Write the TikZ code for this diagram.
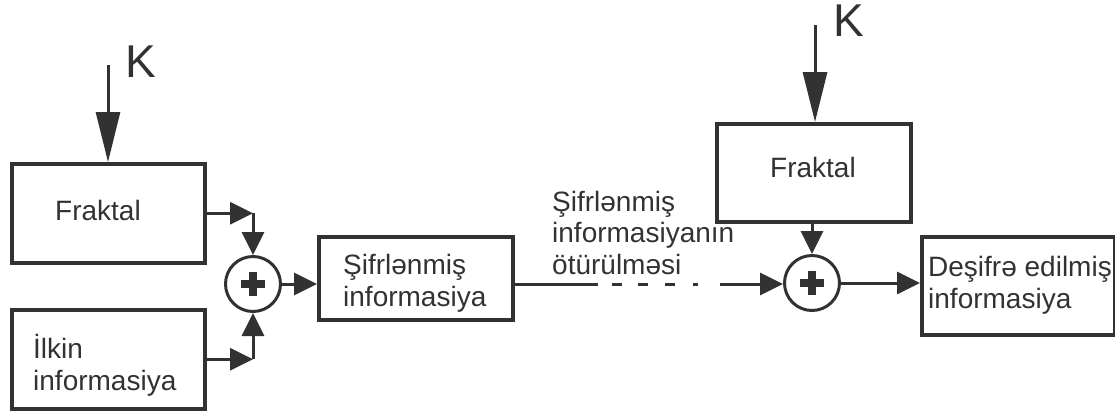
\documentclass[tikz,border=0pt]{standalone}
\usepackage{fontspec}
\setmainfont{Liberation Sans}
\usetikzlibrary{arrows.meta}
\definecolor{ink}{RGB}{50,50,50}
\begin{document}
\begin{tikzpicture}[x=1pt,y=-1pt,
  box/.style={draw=ink, line width=3.5pt, inner sep=0pt, anchor=north west},
  sum/.style={draw=ink, line width=3pt, circle, inner sep=0pt, minimum size=55pt},
  txt/.style={text=ink, font=\fontsize{28}{31.5}\selectfont, inner sep=0pt, anchor=base west, align=left},
  keytxt/.style={text=ink, font=\fontsize{46}{50}\selectfont, inner sep=0pt, anchor=base west},
  conn/.style={draw=ink, line width=3pt},
  arr/.style={conn, -{Triangle[length=23pt,width=22pt]}},
  bigarr/.style={conn, -{Triangle[length=50pt,width=24pt]}},
  plus/.style={draw=ink, line width=7.5pt}]
\useasboundingbox (0,0) rectangle (1115,410);

% blocks
\node[box, minimum width=193pt, minimum height=99pt] (fr1) at (10,162) {};
\node[box, minimum width=193pt, minimum height=99pt] (il) at (10,308) {};
\node[box, minimum width=194pt, minimum height=83pt] (sh) at (317,235) {};
\node[box, minimum width=194pt, minimum height=98pt] (fr2) at (715,122) {};
\node[box, minimum width=193pt, minimum height=98pt] (db) at (920,235) {};

% block texts (multi-line texts are placed by the baseline of their last line)
\node[txt] (fr1t) at (55,220) {Fraktal};
\node[txt] (ilt) at (33,390) {İlkin\\informasiya};
\node[txt] (sht) at (343,306) {Şifrlənmiş\\informasiya};
\node[txt] (fr2t) at (770,177) {Fraktal};
\node[txt] (dbt) at (928,308) {Deşifrə edilmiş\\informasiya};
\node[txt] (chan) at (552,274) {Şifrlənmiş\\informasiyanın\\ötürülməsi};

% adders
\node[sum] (c1) at (253,284) {};
\node[sum] (c2) at (812,283) {};
\foreach \c in {c1,c2}{
  \draw[plus] (\c) ++(-12,0) -- ++(24,0);
  \draw[plus] (\c) ++(0,-12) -- ++(0,24);
}

% key inputs
\node[keytxt] (k1) at (125,77) {K};
\node[keytxt] (k2) at (833,36) {K};
\coordinate (k1s) at (108,65);
\coordinate (k2s) at (815,25);
\draw[bigarr] (k1s) -- (k1s |- fr1.north);
\draw[bigarr] (k2s) -- (k2s |- fr2.north);

% encryption side
\coordinate (j1) at (c1 |- fr1.east);
\coordinate (j2) at (c1 |- il.east);
\draw[arr] (fr1.east) -- (j1);
\draw[arr] (j1) -- (c1.north);
\draw[arr] (il.east) -- (j2);
\draw[arr] (j2) -- (c1.south);
\draw[arr] (c1.east) -- (c1.east -| sh.west);

% transmission channel
\coordinate (t0) at (c1.east -| sh.east);
\coordinate (t1) at (598,284);
\coordinate (t2) at (720,284);
\draw[conn] (t0) -- (t1);
\draw[conn, dash pattern=on 0pt off 14pt on 10pt off 16pt on 10pt off 17pt on 10pt off 18pt on 5pt off 22pt] (t1) -- (t2);
\draw[arr] (t2) -- (t2 -| c2.west);

% decryption side
\draw[arr] (fr2.south -| c2) -- (c2.north);
\draw[arr] (c2.east) -- (c2.east -| db.west);
\end{tikzpicture}
\end{document}
